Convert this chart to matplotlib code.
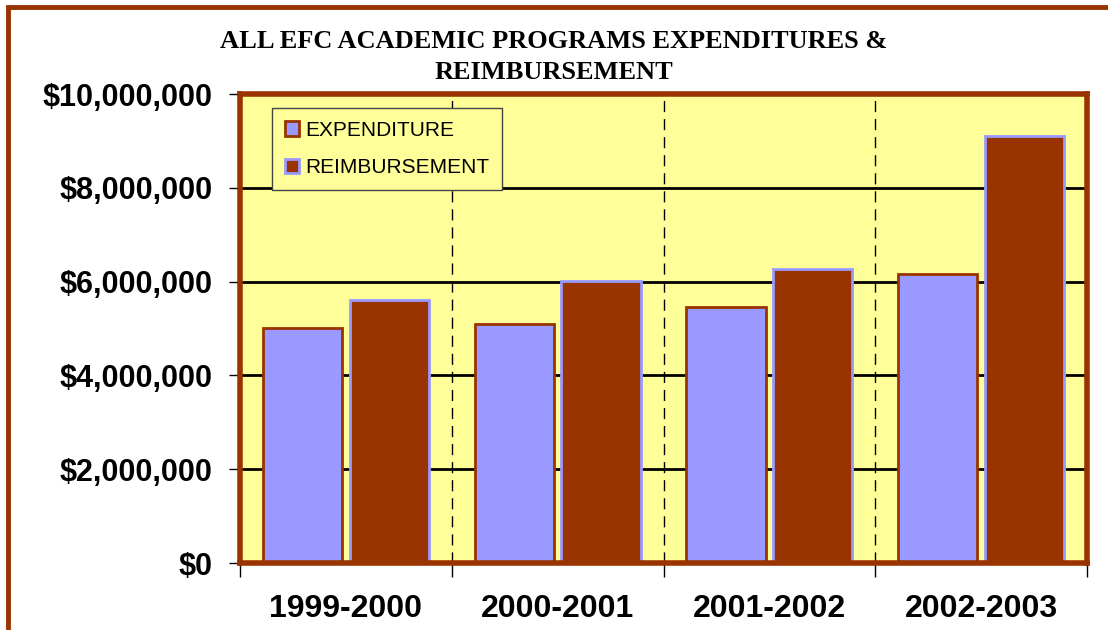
import numpy as np
import matplotlib.pyplot as plt
from matplotlib.patches import Rectangle, Patch
from matplotlib.ticker import FuncFormatter, MultipleLocator

# data
years = ['1999-2000', '2000-2001', '2001-2002', '2002-2003']
expenditure = [5010000, 5100000, 5460000, 6170000]
reimbursement = [5610000, 6020000, 6270000, 9100000]

brown = '#993300'
blue = '#9999FF'
yellow = '#FFFF99'

fig = plt.figure(figsize=(11.08, 6.3), dpi=100)
ax = fig.add_axes([240 / 1108, 1 - 563 / 630, 847 / 1108, 469 / 630])

# outer border (cut at right and bottom)
fig.patches.append(Rectangle((7.5 / 1108, -0.1), 1.2, 1 - 7.5 / 630 + 0.1,
                             transform=fig.transFigure, fill=False,
                             edgecolor=brown, linewidth=3.5, zorder=0))

x = np.arange(len(years))
w = 0.375
ax.bar(x - 0.205, expenditure, w, color=blue, edgecolor=brown, linewidth=2, zorder=3)
ax.bar(x + 0.205, reimbursement, w, color=brown, edgecolor=blue, linewidth=2, zorder=3)

ax.set_facecolor(yellow)
ax.set_xlim(-0.5, 3.5)
ax.set_ylim(0, 10000000)
ax.yaxis.set_major_locator(MultipleLocator(2000000))
ax.yaxis.set_major_formatter(FuncFormatter(lambda v, p: '${:,.0f}'.format(v)))
ax.grid(axis='y', color='black', linewidth=2, zorder=1)

# category boundaries: ticks + dashed separators
ax.set_xticks([-0.5, 0.5, 1.5, 2.5, 3.5])
ax.set_xticklabels([])
ax.set_xticks(x, minor=True)
ax.set_xticklabels(years, minor=True)
for b in [0.5, 1.5, 2.5]:
    ax.axvline(b, color='black', linewidth=1, linestyle=(0, (8, 5)), zorder=1)
ax.tick_params(axis='x', which='major', length=10, width=1, direction='out')
ax.tick_params(axis='x', which='minor', length=0, pad=22, labelsize=23)
ax.tick_params(axis='y', length=8, width=1, labelsize=22, pad=12)
for lab in ax.get_xticklabels(minor=True) + ax.get_yticklabels():
    lab.set_fontweight('bold')
    lab.set_fontfamily('Liberation Sans')

for s in ax.spines.values():
    s.set_color(brown)
    s.set_linewidth(4)
    s.set_zorder(4)

fig.text(0.5, 1 - 57 / 630, 'ALL EFC ACADEMIC PROGRAMS EXPENDITURES &\nREIMBURSEMENT',
         ha='center', va='center', fontsize=19, fontweight='bold',
         fontfamily='Liberation Serif', linespacing=1.45)

handles = [Patch(facecolor=blue, edgecolor=brown, linewidth=2, label='EXPENDITURE'),
           Patch(facecolor=brown, edgecolor=blue, linewidth=2, label='REIMBURSEMENT')]
leg = ax.legend(handles=handles, loc='upper left', bbox_to_anchor=(0.038, 0.97),
                borderaxespad=0,
                prop={'family': 'Liberation Sans', 'size': 15}, frameon=True,
                fancybox=False, edgecolor='#444444', facecolor=yellow, framealpha=1,
                handlelength=0.7, handleheight=0.7, handletextpad=0.3,
                labelspacing=0.9, borderpad=0.6)
leg.get_frame().set_linewidth(1)
leg.set_zorder(5)

fig.savefig('out.png', dpi=100)
